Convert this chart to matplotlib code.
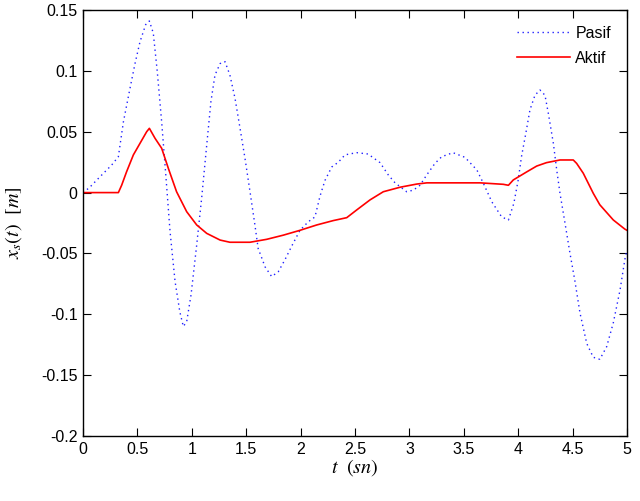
import matplotlib
matplotlib.use('Agg')
import matplotlib.pyplot as plt

# Pasif (passive) response
t_pasif = [0.0, 0.058, 0.156, 0.264, 0.325, 0.371, 0.432, 0.478, 0.524, 0.576, 0.61, 0.646,
           0.683, 0.723, 0.763, 0.80, 0.846, 0.89, 0.922, 0.953, 0.993, 1.045, 1.09, 1.137,
           1.176, 1.213, 1.26, 1.305, 1.35, 1.397, 1.443, 1.489, 1.535, 1.58, 1.61, 1.64,
           1.673, 1.734, 1.795, 1.857, 1.918, 1.994, 2.07, 2.132, 2.178, 2.224, 2.286, 2.347,
           2.408, 2.515, 2.62, 2.73, 2.806, 2.868, 2.975, 3.036, 3.097, 3.159, 3.235, 3.297,
           3.40, 3.51, 3.62, 3.68, 3.757, 3.848, 3.91, 3.96, 4.0, 4.03, 4.07, 4.108, 4.154,
           4.20, 4.246, 4.277, 4.323, 4.354, 4.384, 4.43, 4.476, 4.52, 4.568, 4.63, 4.69,
           4.75, 4.813, 4.874, 4.936, 4.98, 5.0]
x_pasif = [0.0, 0.004, 0.013, 0.0227, 0.0295, 0.058, 0.0857, 0.106, 0.124, 0.138, 0.141, 0.131,
           0.099, 0.058, 0.012, -0.032, -0.073, -0.098, -0.110, -0.106, -0.084, -0.043, -0.005, 0.039,
           0.075, 0.0966, 0.106, 0.1076, 0.0966, 0.0775, 0.053, 0.028, 0.0007, -0.0266, -0.046, -0.053,
           -0.061, -0.069, -0.065, -0.055, -0.044, -0.031, -0.024, -0.020, -0.003, 0.010, 0.021, 0.025,
           0.031, 0.0328, 0.0317, 0.0246, 0.0145, 0.008, 0.0007, 0.002, 0.006, 0.0145, 0.024, 0.0295,
           0.0328, 0.029, 0.0186, 0.0076, -0.0075, -0.020, -0.0225, -0.0088, 0.0104, 0.0295, 0.0487, 0.068, 0.080,
           0.0843, 0.080, 0.065, 0.0405, 0.0186, -0.0006, -0.025, -0.050, -0.072, -0.099, -0.124, -0.1353,
           -0.137, -0.1266, -0.107, -0.080, -0.055, -0.047]

# Aktif (active) response
t_aktif = [0.0, 0.325, 0.355, 0.40, 0.463, 0.524, 0.585, 0.61, 0.662, 0.723, 0.784, 0.86,
           0.953, 1.045, 1.137, 1.26, 1.35, 1.535, 1.688, 1.84, 1.994, 2.148, 2.30, 2.424,
           2.515, 2.638, 2.76, 2.914, 3.067, 3.16, 3.373, 3.65, 3.863, 3.91, 3.955, 4.078,
           4.17, 4.26, 4.384, 4.506, 4.537, 4.598, 4.69, 4.75, 4.874, 4.98, 5.0]
x_aktif = [0.0, 0.0, 0.006, 0.017, 0.031, 0.0405, 0.050, 0.0528, 0.0446, 0.0364, 0.020, 0.0007,
           -0.0157, -0.0266, -0.0335, -0.039, -0.0408, -0.0408, -0.0384, -0.035, -0.031, -0.0266, -0.023, -0.0206,
           -0.0143, -0.006, 0.0007, 0.0044, 0.007, 0.008, 0.008, 0.008, 0.0068, 0.006, 0.0104, 0.017,
           0.0218, 0.0246, 0.0268, 0.0268, 0.024, 0.0159, -0.0006, -0.010, -0.0225, -0.030, -0.031]

x_ticks = [0, 0.5, 1, 1.5, 2, 2.5, 3, 3.5, 4, 4.5, 5]
y_ticks = [-0.2, -0.15, -0.1, -0.05, 0, 0.05, 0.1, 0.15]

plt.rcParams['font.family'] = ['Liberation Sans', 'DejaVu Sans']
plt.rcParams['mathtext.fontset'] = 'stix'

fig = plt.figure(figsize=(6.4, 5.01), dpi=100)
ax = fig.add_axes([0.1297, 0.1297, 0.8500, 0.8503])

ax.plot(t_pasif, x_pasif, color='#2020ff', linestyle=(0, (1, 2.6)), linewidth=1.0, label='Pasif')
ax.plot(t_aktif, x_aktif, color='#ff0000', linewidth=1.2, label='Aktif')

ax.set_xlim(0, 5)
ax.set_ylim(-0.2, 0.15)
ax.set_xticks(x_ticks)
ax.set_xticklabels([f'{v:g}' for v in x_ticks])
ax.set_yticks(y_ticks)
ax.set_yticklabels([f'{v:g}' for v in y_ticks])
ax.tick_params(direction='in', top=True, right=True, length=5.5, labelsize=11.5, pad=4)
for s in ax.spines.values():
    s.set_linewidth(1.0)

ax.set_xlabel(r'$t\ \ (sn)$', fontsize=14.5)
ax.set_ylabel(r'$x_s(t)\ \ [m]$', fontsize=14.5)
ax.xaxis.set_label_coords(0.5, -0.05)
ax.yaxis.set_label_coords(-0.108, 0.5)

ax.legend(loc='upper right', frameon=False, fontsize=11.5, handlelength=3.3,
          handletextpad=0.35, labelspacing=0.6, borderaxespad=0.6)

fig.savefig('out.png', dpi=100)
